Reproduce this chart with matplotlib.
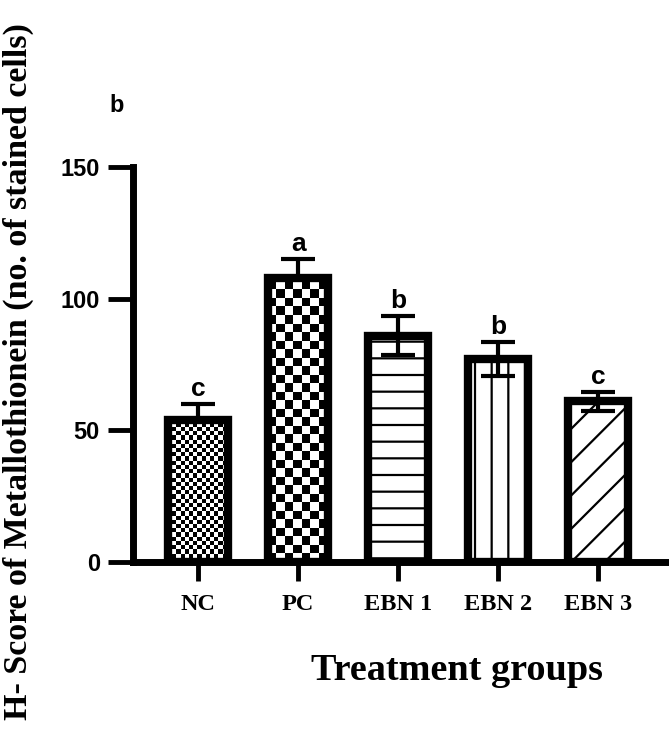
import numpy as np
import matplotlib
matplotlib.use("Agg")
import matplotlib.pyplot as plt

# data
groups = ["NC", "PC", "EBN 1", "EBN 2", "EBN 3"]
scores = [54, 108, 86, 77, 61]
errors = [6, 7, 7.5, 6.5, 3.5]
letters = ["c", "a", "b", "b", "c"]

plt.rcParams["hatch.linewidth"] = 1.6

fig = plt.figure(figsize=(6.69, 7.43), dpi=100)
ax = fig.add_axes([0.199, 0.2436, 0.801, 0.5316])
ax.set_xlim(-0.65, 4.71)
ax.set_ylim(0, 150)

x = np.arange(len(groups))
# error bars sit behind the bars, like the GraphPad original
ax.errorbar(x, scores, yerr=errors, fmt="none", ecolor="black",
            elinewidth=3, capsize=12, capthick=3, zorder=1)

bars = ax.bar(x, scores, width=0.6, color="none", edgecolor="black",
              linewidth=6, zorder=2)

# hatch styles: two checkerboards drawn as images, the rest as hatches
bars[2].set_hatch("-")
bars[3].set_hatch("|")
bars[4].set_hatch("/")


def checker(bar, cell_px):
    # cell size given in pixels, turned into data units
    bx, by = bar.get_x(), bar.get_y()
    bw, bh = bar.get_width(), bar.get_height()
    px_per_x = ax.transData.transform((1, 0))[0] - ax.transData.transform((0, 0))[0]
    px_per_y = ax.transData.transform((0, 1))[1] - ax.transData.transform((0, 0))[1]
    nx = int(np.ceil(bw * px_per_x / cell_px))
    ny = int(np.ceil(bh * px_per_y / cell_px))
    img = (np.add.outer(np.arange(ny), np.arange(nx)) % 2).astype(float)
    im = ax.imshow(img, cmap="gray", interpolation="nearest", origin="lower",
                   extent=(bx, bx + nx * cell_px / px_per_x,
                           by, by + ny * cell_px / px_per_y),
                   aspect="auto", zorder=1.5)
    im.set_clip_path(bar)


checker(bars[0], 4.2)
checker(bars[1], 8.5)
ax.set_xlim(-0.65, 4.71)
ax.set_ylim(0, 150)

for xi, s, e, lab in zip(x, scores, errors, letters):
    ax.annotate(lab, (xi, s + e), xytext=(0, 2), textcoords="offset points",
                ha="center", va="bottom", fontsize=19, fontweight="bold",
                family="Liberation Sans")

ax.spines["top"].set_visible(False)
ax.spines["right"].set_visible(False)
ax.spines["left"].set_linewidth(5)
ax.spines["bottom"].set_linewidth(5)

ax.set_yticks([0, 50, 100, 150])
ax.tick_params(axis="y", length=18, width=3.5, pad=6, labelsize=17)
ax.tick_params(axis="x", length=14, width=3.5, pad=9, labelsize=17.5)
for t in ax.get_yticklabels():
    t.set_fontweight("bold")
    t.set_family("Liberation Sans")

ax.set_xticks(x)
ax.set_xticklabels(groups, fontweight="bold", family="Liberation Serif")

fig.text(0.683, 0.098, "Treatment groups", ha="center", va="center",
         fontsize=27.5, fontweight="bold", family="Liberation Serif")
fig.text(0.027, 0.5, "H- Score of Metallothionein (no. of stained cells)",
         ha="center", va="center", rotation=90, fontsize=24.5,
         fontweight="bold", family="Liberation Serif")
fig.text(0.175, 0.858, "b", ha="center", va="center", fontsize=17,
         fontweight="bold", family="Liberation Sans")

fig.savefig("out.png", dpi=100)
